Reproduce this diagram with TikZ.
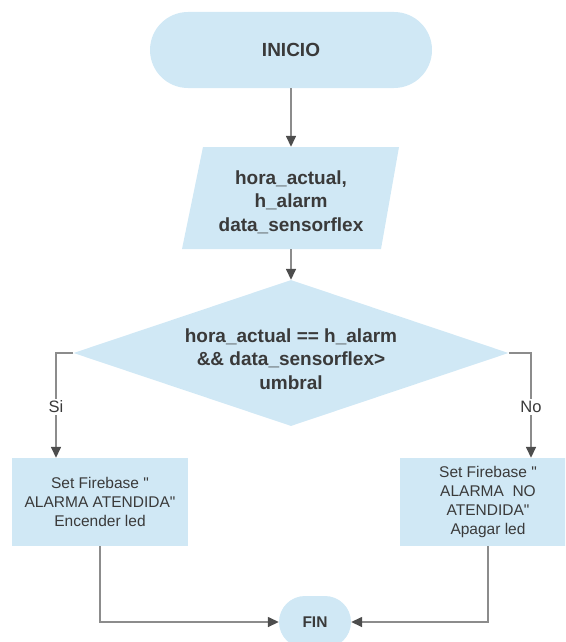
\documentclass[tikz,border=0pt]{standalone}
\usepackage{fontspec}
% a plain family, so that " stays a straight quote
\newfontfamily\flowfont{Liberation Sans}
\usetikzlibrary{shapes.geometric,arrows.meta}

\definecolor{shapefill}{HTML}{D0E8F5}
\definecolor{linegray}{HTML}{8C8C8C}
\definecolor{tipgray}{HTML}{4D4D4D}
\definecolor{txt}{HTML}{3A3A3A}

\begin{document}
\begin{tikzpicture}[x=1pt,y=-1pt,
  flow/.style={draw=linegray, line width=1.5pt,
    -{Triangle[width=10pt,length=11pt,color=tipgray]}},
  boldtxt/.style={font=\flowfont\fontsize{19}{23.5}\selectfont\bfseries, text=txt, align=center},
  smalltxt/.style={font=\flowfont\fontsize{15.5}{18.7}\selectfont, text=txt, align=center},
  terminal/.style={fill=shapefill, draw=none, rectangle, inner sep=0pt},
  process/.style={fill=shapefill, draw=none, rectangle, inner sep=0pt,
    minimum width=176pt, minimum height=88pt, smalltxt},
  branchlbl/.style={fill=white, inner sep=2pt, text=txt,
    font=\flowfont\fontsize{16.5}{19}\selectfont}
]
\useasboundingbox (0,0) rectangle (565,642);
\clip (0,0) rectangle (565,642);

% start terminal
\node[terminal, rounded corners=38pt, minimum width=282pt, minimum height=76pt,
  boldtxt] (inicio) at (291,50) {INICIO};

% input parallelogram (outline box gives the anchors, text set a little lower)
\fill[shapefill] (182,249) -- (381,249) -- (399,147) -- (203,147) -- cycle;
\node[inner sep=0pt, minimum width=196pt, minimum height=102pt] (datos) at (291,198) {};
\node[boldtxt, inner sep=0pt] (datostxt) at (291,202)
  {hora\_actual,\\h\_alarm\\data\_sensorflex};

% decision
\node[diamond, fill=shapefill, aspect=2.98, inner sep=0pt,
  minimum width=435pt, minimum height=146pt] (cond) at (291,353) {};
\node[boldtxt, inner sep=0pt] (condtxt) at (291,359)
  {hora\_actual == h\_alarm\\\&\& data\_sensorflex>\\umbral};

% actions
\node[process] (si) at (100,502)
  {Set Firebase "\\ALARMA ATENDIDA"\\Encender led};
\node[process] (no) at (488,502)
  {Set Firebase "\\ALARMA\ \ NO\\ATENDIDA"\\Apagar led};

% end terminal
\node[terminal, rounded corners=26pt, minimum width=72pt, minimum height=52pt,
  font=\flowfont\fontsize{15.5}{18}\selectfont\bfseries, text=txt] (fin) at (315,622) {FIN};

% connectors
\coordinate (lbend) at (56,353);
\coordinate (rbend) at (531,353);

\draw[flow] (inicio.south) -- (datos.north);
\draw[flow] (datos.south) -- (cond.north);
\draw[flow] (cond.west) -- (lbend) -- (lbend |- si.north);
\draw[flow] (cond.east) -- (rbend) -- (rbend |- no.north);
\draw[flow] (si.south) |- (fin.west);
\draw[flow] (no.south) |- (fin.east);

% branch labels
\node[branchlbl] (lblsi) at (56,407) {Si};
\node[branchlbl] (lblno) at (531,407) {No};
\end{tikzpicture}
\end{document}
